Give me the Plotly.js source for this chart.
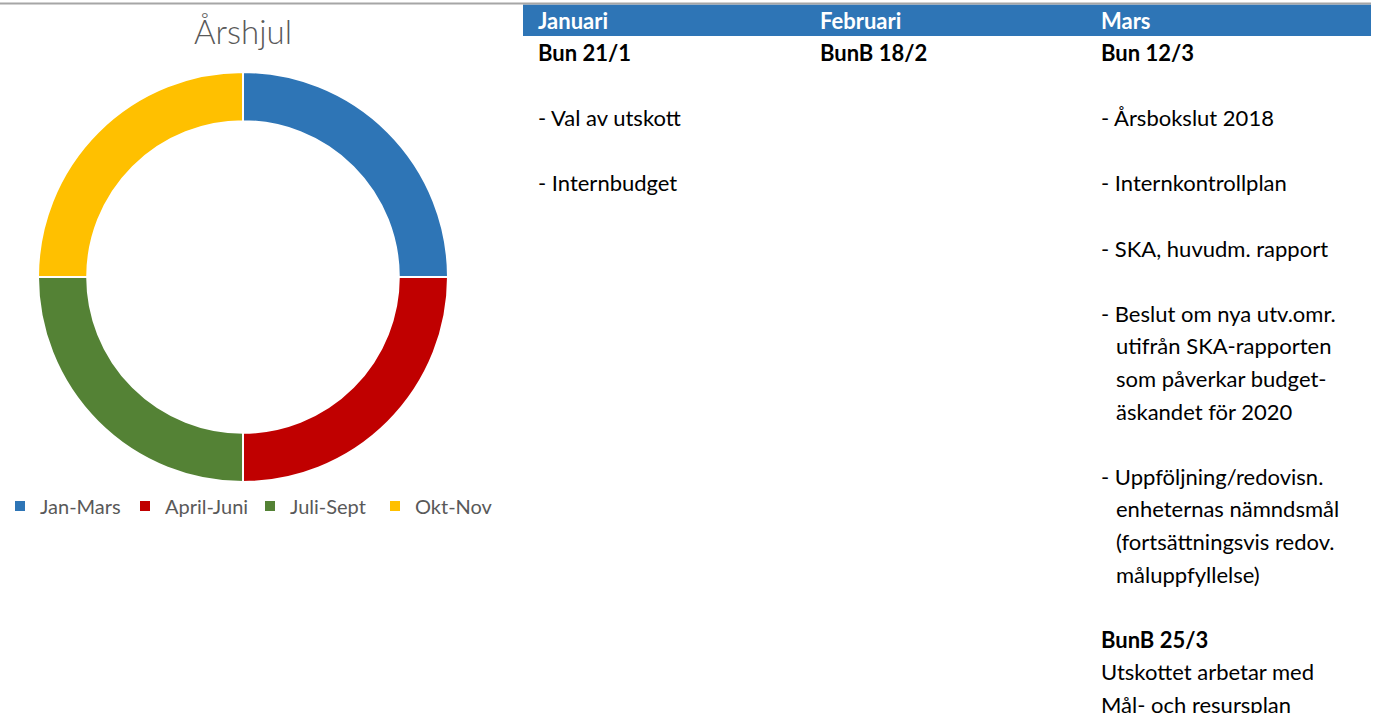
<!DOCTYPE html>
<html>
<head>
<meta charset="utf-8">
<script src="https://cdn.plot.ly/plotly-3.0.1.min.js"></script>
<style>
html,body{margin:0;padding:0;background:#fff;}
#chart{width:1376px;height:713px;}
</style>
</head>
<body>
<div id="chart"></div>
<script>
// ---- data ----
var chartTitle = 'Årshjul';
var quarterLabels = ['Jan-Mars', 'April-Juni', 'Juli-Sept', 'Okt-Nov'];
var quarterValues = [1, 1, 1, 1];
var quarterColors = ['#2E75B6', '#C00000', '#548235', '#FFC000'];

var months = ['Januari', 'Februari', 'Mars'];
var boldLines = ['Bun 21/1', 'BunB 18/2', 'Bun 12/3', 'BunB 25/3'];
var januariLines = ['Bun 21/1', '', '- Val av utskott', '', '- Internbudget'];
var februariLines = ['BunB 18/2'];
var marsLines = [
  'Bun 12/3', '',
  '- Årsbokslut 2018', '',
  '- Internkontrollplan', '',
  '- SKA, huvudm. rapport', '',
  '- Beslut om nya utv.omr.',
  '  utifrån SKA-rapporten',
  '  som påverkar budget-',
  '  äskandet för 2020', '',
  '- Uppföljning/redovisn.',
  '  enheternas nämndsmål',
  '  (fortsättningsvis redov.',
  '  måluppfyllelse)', '',
  'BunB 25/3',
  'Utskottet arbetar med',
  'Mål- och resursplan'
];
var columns = [januariLines, februariLines, marsLines];

// ---- layout helpers ----
var W = 1376, H = 713;
function px(x) { return x / W; }
function py(y) { return 1 - y / H; }
var FONT = 'Lato, "Open Sans", sans-serif';
var colX = [536, 818, 1099];
var indentPx = 15;
var firstLineY = 52.5, lineStep = 32.6;

var annotations = [];
months.forEach(function (m, i) {
  annotations.push({
    text: '<b>' + m + '</b>', xref: 'paper', yref: 'paper',
    x: px(colX[i]), y: py(20), xanchor: 'left', yanchor: 'middle',
    showarrow: false, font: {family: FONT, size: 22, color: '#ffffff'}
  });
});
columns.forEach(function (lines, ci) {
  lines.forEach(function (t, li) {
    if (!t) return;
    var indent = t.indexOf('  ') === 0;
    var txt = t.trim();
    var bold = boldLines.indexOf(txt) >= 0;
    annotations.push({
      text: bold ? '<b>' + txt + '</b>' : txt,
      xref: 'paper', yref: 'paper',
      x: px(colX[ci] + (indent ? indentPx : 0)), y: py(firstLineY + lineStep * li),
      xanchor: 'left', yanchor: 'middle', showarrow: false,
      font: {family: FONT, size: 22, color: '#000000'}
    });
  });
});

var shapes = [
  {type: 'line', xref: 'paper', yref: 'paper', x0: 0, x1: px(1371), y0: py(3.5), y1: py(3.5),
   line: {color: '#A6A6A6', width: 2}},
  {type: 'rect', xref: 'paper', yref: 'paper', x0: px(523), x1: px(1371), y0: py(36), y1: py(4.5),
   fillcolor: '#2E75B6', line: {width: 0}, layer: 'below'}
];

var trace = {
  type: 'pie',
  labels: quarterLabels,
  values: quarterValues,
  hole: 0.76,
  sort: false,
  direction: 'clockwise',
  rotation: 0,
  textinfo: 'none',
  hoverinfo: 'label',
  marker: {colors: quarterColors, line: {color: '#ffffff', width: 2}},
  domain: {x: [px(38), px(448)], y: [py(482), py(72)]}
};

var layout = {
  width: W, height: H,
  margin: {l: 0, r: 0, t: 0, b: 0},
  paper_bgcolor: '#ffffff',
  title: {text: chartTitle, x: px(243), xanchor: 'center', xref: 'paper',
          y: py(32), yanchor: 'middle', yref: 'paper',
          font: {family: FONT, size: 33, color: '#595959', weight: 300}},
  showlegend: true,
  legend: {orientation: 'h', x: px(0), y: py(506), xanchor: 'left', yanchor: 'middle',
           font: {family: FONT, size: 20, color: '#595959'},
           entrywidth: 80, entrywidthmode: 'pixels', traceorder: 'normal'},
  annotations: annotations,
  shapes: shapes
};

Plotly.newPlot('chart', [trace], layout, {displayModeBar: false, staticPlot: true});
</script>
</body>
</html>
